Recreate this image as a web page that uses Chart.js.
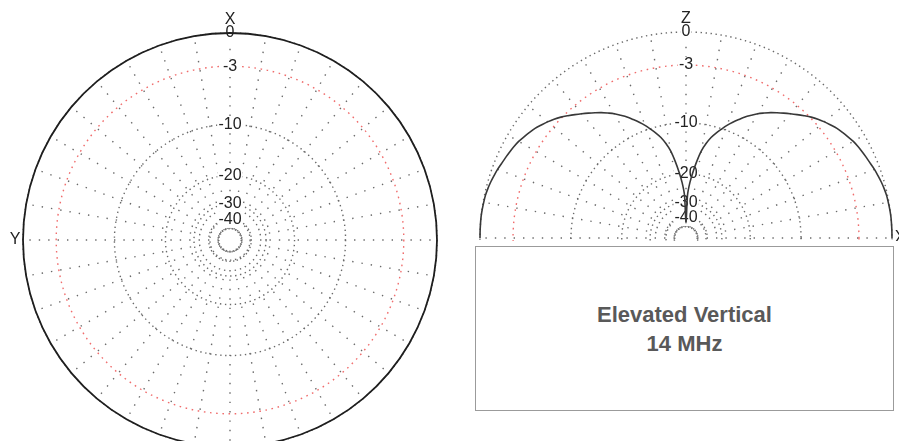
<!DOCTYPE html>
<html>
<head>
<meta charset="utf-8">
<title>Elevated Vertical 14 MHz</title>
<script src="https://cdn.jsdelivr.net/npm/chart.js@4/dist/chart.umd.min.js"></script>
<style>
  html, body { margin: 0; padding: 0; background: #fff; overflow: hidden; width: 899px; height: 441px; }
  #az { position: absolute; left: 0; top: 0; }
  #elWrap { position: absolute; left: 460px; top: 0; width: 439px; height: 241px; overflow: hidden; }
  #el { position: absolute; left: 0; top: 0; }
  #caption {
    position: absolute; left: 475px; top: 246px; width: 417px; height: 163px;
    border: 1px solid #9b9b9b; background: #fff;
    display: flex; flex-direction: column; align-items: center; justify-content: center;
    font: bold 22px "Liberation Sans", Arial, sans-serif; color: #595959; line-height: 29px; text-align: center;
  }
</style>
</head>
<body>
<canvas id="az" width="460" height="480"></canvas>
<div id="elWrap"><canvas id="el" width="439" height="480"></canvas></div>
<div id="caption"><div>Elevated Vertical</div><div>14 MHz</div></div>
<script>
// dB rings of the ARRL log-periodic scale (radius shrinks by 0.89 every 2 dB)
const ringDb = [-50, -40, -30, -20, -10, -3, 0];
const ringLabels = ['', '-40', '-30', '-20', '-10', '-3', '0'];

// Azimuth plane: bearing (deg) and gain relative to the pattern maximum (dB)
const azimuthDeg = [0, 10, 20, 30, 40, 50, 60, 70, 80, 90, 100, 110, 120, 130, 140, 150, 160, 170,
                    180, 190, 200, 210, 220, 230, 240, 250, 260, 270, 280, 290, 300, 310, 320, 330, 340, 350];
const azimuthGainDb = [0, 0, 0, 0, 0, 0, 0, 0, 0, 0, 0, 0, 0, 0, 0, 0, 0, 0,
                       0, 0, 0, 0, 0, 0, 0, 0, 0, 0, 0, 0, 0, 0, 0, 0, 0, 0];

// Elevation plane: elevation angle (deg) and gain relative to the maximum (dB)
const elevationDeg = [0, 2, 4, 6, 8, 10, 12, 14, 16, 18, 20, 22, 24, 26, 28, 30, 32, 34, 36, 38, 40, 42, 44,
                      46, 48, 50, 52, 54, 56, 58, 60, 62, 64, 66, 68, 70, 72, 74, 76, 78, 80, 82, 84, 86, 88, 90];
const elevationGainDb = [0, 0, 0, 0, -0.02, -0.05, -0.08, -0.15, -0.24, -0.35, -0.46, -0.6, -0.72, -0.84,
                         -0.96, -1.1, -1.3, -1.5, -1.7, -1.98, -2.25, -2.55, -2.9, -3.3, -3.7, -4.1, -4.5,
                         -4.9, -5.3, -5.75, -6.2, -6.75, -7.3, -7.95, -8.6, -9.3, -10.1, -10.9, -11.8, -13.0,
                         -14.5, -16.8, -19.5, -22.5, -27, -45];

const ARRL_RATIO = 0.89;
const SPOKE_STEP_DEG = 10;
const REF_RING_DB = -3;
const GRID_GRAY = '#6a6a6a';
const GRID_RED = '#f06c6c';
const TEXT_FONT = '"Liberation Sans", Arial, sans-serif';

// Radial scale with the ARRL log-periodic dB spacing and dotted rings/spokes
class ArrlRadialScale extends Chart.RadialLinearScale {
  static id = 'arrlRadial';

  fit() {
    const a = this.chart.chartArea || {left: this.left, top: this.top, right: this.right, bottom: this.bottom};
    this.xCenter = (a.left + a.right) / 2;
    this.yCenter = (a.top + a.bottom) / 2;
    this.drawingArea = Math.min(a.right - a.left, a.bottom - a.top) / 2;
  }

  getDistanceFromCenterForValue(value) {
    if (value === null || value === undefined || Number.isNaN(+value)) return NaN;
    const db = Math.min(Math.max(+value, this.min), this.max);
    return this.drawingArea * Math.pow(ARRL_RATIO, (this.max - db) / 2);
  }

  getValueForDistanceFromCenter(distance) {
    return this.max + 2 * Math.log(distance / this.drawingArea) / -Math.log(ARRL_RATIO);
  }

  drawGrid() {
    const ctx = this.ctx;
    const count = this._pointLabels.length;
    const every = Math.max(1, Math.round(count * SPOKE_STEP_DEG / 360));
    ctx.save();
    ctx.lineWidth = 1.4;

    // spokes from the innermost ring out to the 0 dB ring
    ctx.strokeStyle = GRID_GRAY;
    ctx.setLineDash([1.4, 8]);
    const rIn = this.getDistanceFromCenterForValue(this.min);
    for (let i = 0; i < count; i += every) {
      const p0 = this.getPointPosition(i, rIn);
      const p1 = this.getPointPosition(i, this.drawingArea);
      ctx.beginPath();
      ctx.moveTo(p0.x, p0.y);
      ctx.lineTo(p1.x, p1.y);
      ctx.stroke();
    }

    // dB rings
    this.ticks.forEach((tick) => {
      const r = this.getDistanceFromCenterForValue(tick.value);
      ctx.strokeStyle = tick.value === REF_RING_DB ? GRID_RED : GRID_GRAY;
      ctx.setLineDash(r < 15 ? [1.2, 2.2] : (tick.value === REF_RING_DB ? [1.6, 4.6] : [1.4, 3.6]));
      ctx.beginPath();
      ctx.arc(this.xCenter, this.yCenter, r, 0, Math.PI * 2);
      ctx.stroke();
    });
    ctx.restore();
  }
}
Chart.register(ArrlRadialScale);

// Axis letters placed just outside the 0 dB ring
const axisNames = {
  id: 'axisNames',
  afterDraw(chart, args, opts) {
    const s = chart.scales.r;
    const ctx = chart.ctx;
    ctx.save();
    ctx.font = '16px ' + TEXT_FONT;
    ctx.fillStyle = '#222';
    ctx.textAlign = 'center';
    ctx.textBaseline = 'middle';
    (opts.names || []).forEach((n) => {
      const a = n.bearing * Math.PI / 180;
      const d = s.drawingArea + n.gap;
      ctx.fillText(n.text, s.xCenter + Math.sin(a) * d, s.yCenter - Math.cos(a) * d);
    });
    ctx.restore();
  }
};

function polarOptions(padding, names) {
  return {
    responsive: false,
    animation: false,
    events: [],
    layout: { padding },
    elements: { line: { capBezierPoints: false } },
    plugins: { legend: { display: false }, tooltip: { enabled: false }, axisNames: { names } },
    scales: {
      r: {
        type: 'arrlRadial',
        min: -50,
        max: 0,
        afterBuildTicks: (scale) => { scale.ticks = ringDb.map((v) => ({ value: v })); },
        angleLines: { display: false },
        grid: { display: true, circular: true },
        pointLabels: { display: false },
        ticks: {
          display: true,
          color: '#222',
          font: { family: TEXT_FONT, size: 16 },
          showLabelBackdrop: true,
          backdropColor: (c) => (c.tick && c.tick.label ? '#ffffff' : 'rgba(0,0,0,0)'),
          backdropPadding: { left: 1, right: 1, top: 0, bottom: 0 },
          callback: (v) => { const i = ringDb.indexOf(v); return i < 0 ? '' : ringLabels[i]; }
        }
      }
    }
  };
}

// Azimuth pattern
new Chart(document.getElementById('az'), {
  type: 'radar',
  data: {
    labels: azimuthDeg,
    datasets: [{
      data: azimuthGainDb,
      borderColor: '#1e1e1e',
      borderWidth: 1.8,
      pointRadius: 0,
      fill: false,
      tension: 0.335,
      clip: false
    }]
  },
  options: polarOptions({ left: 23, right: 23, top: 33, bottom: 33 },
    [{ text: 'X', bearing: 0, gap: 13 }, { text: 'Y', bearing: 270, gap: 8 }]),
  plugins: [axisNames]
});

// Elevation pattern: bearing measured clockwise from the zenith, upper half only
const elStep = elevationDeg[1] - elevationDeg[0];
const elCount = Math.round(360 / elStep);
const elLabels = [];
const elData = [];
for (let i = 0; i < elCount; i++) {
  const bearing = i * elStep;
  elLabels.push(bearing);
  let el = null;
  if (bearing <= 90) el = 90 - bearing;
  else if (bearing >= 270) el = bearing - 270;
  const k = el === null ? -1 : elevationDeg.indexOf(el);
  elData.push(k < 0 ? null : elevationGainDb[k]);
}

new Chart(document.getElementById('el'), {
  type: 'radar',
  data: {
    labels: elLabels,
    datasets: [{
      data: elData,
      borderColor: '#383838',
      borderWidth: 1.6,
      pointRadius: 0,
      fill: false,
      tension: 0.3,
      spanGaps: false,
      clip: false
    }]
  },
  options: polarOptions({ left: 20, right: 7, top: 32, bottom: 36 },
    [{ text: 'Z', bearing: 0, gap: 13 }, { text: 'X', bearing: 90, gap: 8 }]),
  plugins: [axisNames]
});
</script>
</body>
</html>
